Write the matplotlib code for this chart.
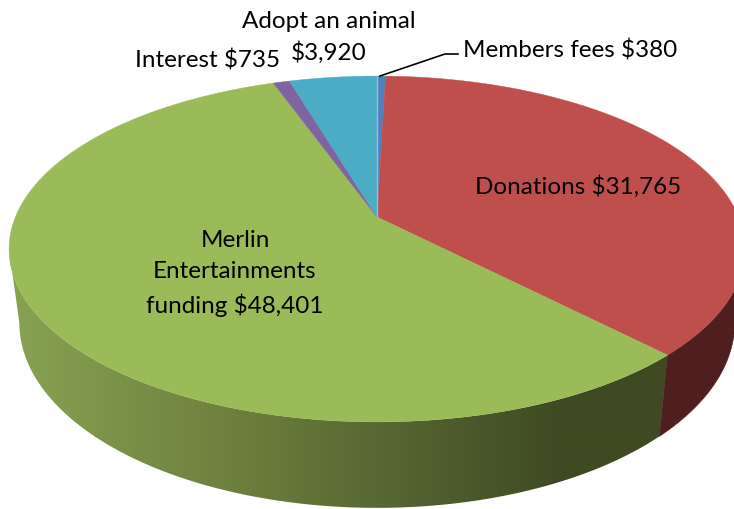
import numpy as np
import matplotlib
matplotlib.use("Agg")
import matplotlib.pyplot as plt
from matplotlib.colors import LinearSegmentedColormap
from matplotlib.patches import Polygon

plt.rcParams["font.family"] = ["Lato", "DejaVu Sans"]

# clockwise from 12 o'clock
names = ["Members fees", "Donations", "Merlin Entertainments funding", "Interest", "Adopt an animal"]
values = [380, 31765, 48401, 735, 3920]
top_colors = ["#4F81BD", "#BE4F4D", "#9BBB59", "#8064A2", "#4BACC6"]

# pie geometry in pixels, the flat disc gets a perspective projection
W, H = 734, 510
cx, cy = 377, 218
persp = 0.185
ax_u, ax_v = 361.6, 167.0
shrink_x, shrink_y, depth = 0.972, 1.07, 71.6

# shading of the green rim, x pixel -> colour
green_x = [10, 250, 400, 560, 734]
green_c = ["#88A252", "#6B7D3C", "#556432", "#3F4A22", "#3F4A22"]
red_side = "#4E1F1E"


def rim(t):
    u, v = np.sin(t), np.cos(t)
    w = 1 + persp * v
    return ax_u * u / w, -ax_v * v / w


def rim_low(t):
    x, y = rim(t)
    return x * shrink_x, y * shrink_y + depth


def side_poly(t0, t1):
    ts = np.linspace(t0, t1, 300)
    x1, y1 = rim(ts)
    x2, y2 = rim_low(ts)
    return np.c_[np.r_[cx + x1, cx + x2[::-1]], np.r_[cy + y1, cy + y2[::-1]]]


fig = plt.figure(figsize=(W / 100, H / 100), dpi=100)
ax = fig.add_axes([0, 0, 1, 1])

edges = np.cumsum([0] + values) / sum(values) * 2 * np.pi

# only the front of the rim shows: from the right extreme to the left extreme
probe = np.linspace(0, 2 * np.pi, 2000)
t_right = probe[np.argmax(rim(probe)[0])]
t_left = probe[np.argmin(rim(probe)[0])]
t_split = edges[2]

ax.add_patch(Polygon(side_poly(t_right, t_split), closed=True, fc=red_side, ec=red_side, lw=0.4))

stops = [(x - green_x[0]) / (green_x[-1] - green_x[0]) for x in green_x]
cmap = LinearSegmentedColormap.from_list("green_rim", list(zip(stops, green_c)))
grad = ax.imshow(np.linspace(0, 1, 724)[None, :], cmap=cmap, aspect="auto",
                 extent=(green_x[0], green_x[-1], H, 0), interpolation="bilinear")
clip = Polygon(side_poly(t_split, t_left), closed=True, transform=ax.transData, fc="none", ec="none")
ax.add_patch(clip)
grad.set_clip_path(clip)

for i, val in enumerate(values):
    ts = np.linspace(edges[i], edges[i + 1], 200)
    x, y = rim(ts)
    ax.fill(np.r_[cx, cx + x], np.r_[cy, cy + y], color=top_colors[i], lw=0.3)

# light strip on the edge of the small slice
x0, y0 = rim(edges[0])
ax.plot([cx, cx + x0], [cy, cy + y0], color="#9DBBDD", lw=1.0, solid_capstyle="butt")

# labels
fs = 17.5
ax.text(578, 187, f"{names[1]} ${values[1]:,}", fontsize=fs, ha="center", va="center")
ax.text(235, 273.5, f"Merlin\nEntertainments\nfunding ${values[2]:,}", fontsize=fs, ha="center",
        va="center", linespacing=1.58)
ax.text(208, 60, f"{names[3]} ${values[3]:,}", fontsize=fs, ha="center", va="center")
ax.text(329, 21, names[4], fontsize=fs, ha="center", va="center")
ax.text(329, 53, f"${values[4]:,}", fontsize=fs, ha="center", va="center")
ax.text(570, 50.5, f"{names[0]} ${values[0]:,}", fontsize=fs, ha="center", va="center")

# leader line for members fees
ax.plot([380, 445, 458], [77, 55, 55], color="black", lw=1.2)

ax.set_xlim(0, W)
ax.set_ylim(H, 0)
ax.axis("off")

fig.savefig("out.png", dpi=100)
